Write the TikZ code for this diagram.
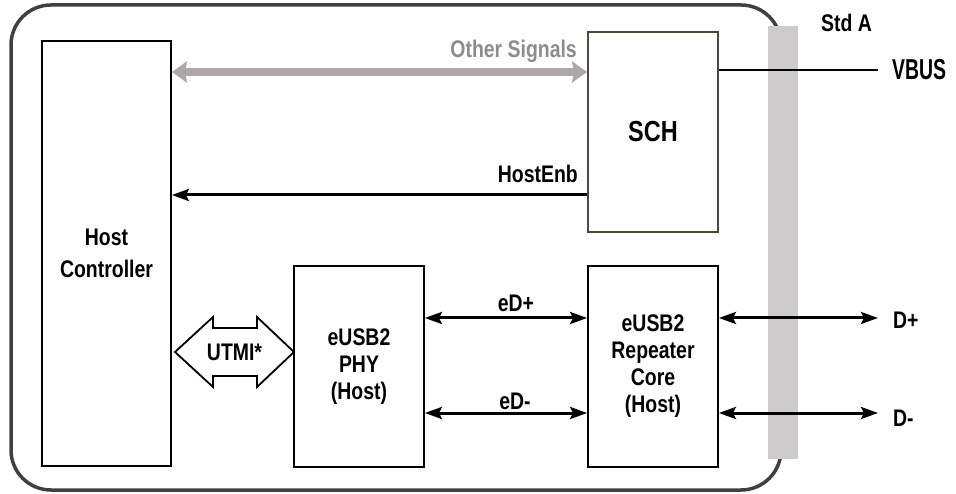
\documentclass[tikz,border=0pt]{standalone}
\usepackage{fontspec}
\setmainfont{Liberation Sans}[FakeStretch=0.81]
\usetikzlibrary{arrows.meta}

\definecolor{frame}{HTML}{404040}
\definecolor{connbar}{HTML}{CDCBCC}
\definecolor{sigarrow}{HTML}{ADA8A8}
\definecolor{sigtext}{HTML}{8C8C8C}
\definecolor{schline}{HTML}{50493A}

\tikzset{
  lbl/.style={font=\bfseries\fontsize{24}{27}\selectfont, inner sep=0pt},
  blk/.style={draw=black, line width=1.8pt, fill=white, align=center,
    font=\bfseries\fontsize{24}{27}\selectfont, inner sep=0pt},
  sig/.style={line width=3pt, draw=black},
  tipb/.tip={Stealth[length=17pt,width=12pt,inset=3pt]},
}

\begin{document}
\begin{tikzpicture}[x=1pt, y=-1pt]
\useasboundingbox (0,0) rectangle (956,494);

% enclosing board outline
\draw[frame, line width=3.5pt, rounded corners=40pt] (11,5) rectangle (781,490);

% Std A connector bar
\fill[connbar] (768,26) rectangle (798,459);

% blocks
\node[blk, minimum width=129pt, minimum height=425pt,
  font=\bfseries\fontsize{24}{32}\selectfont] (hc) at (106.5,253.5) {Host\\Controller};
\node[blk, draw=schline, minimum width=130pt, minimum height=200pt,
  font=\bfseries\fontsize{29}{32}\selectfont] (sch) at (653,132) {SCH};
\node[blk, minimum width=130pt, minimum height=201pt] (phy) at (359,366.5) {eUSB2\\PHY\\(Host)};
\node[blk, minimum width=130pt, minimum height=201pt] (rep) at (653,366.5) {eUSB2\\Repeater\\Core\\(Host)};

% free ends at the connector
\coordinate (vbusend) at (878,70);
\coordinate (dpend) at (878,318);
\coordinate (dmend) at (878,413);

% other signals (grey bus)
\draw[sigarrow, line width=8.5pt, {Stealth[length=15pt,width=21pt,inset=2pt]}-{Stealth[length=15pt,width=21pt,inset=2pt]}]
  (hc.east |- 0,72) -- (sch.west |- 0,72);
\node[lbl, text=sigtext, anchor=base east] (ostxt) at (577,58) {Other Signals};

% HostEnb
\draw[sig, tipb-] (hc.east |- 0,195) -- (sch.west |- 0,195);
\node[lbl, anchor=base east] (hetxt) at (578,183) {HostEnb};

% VBUS
\draw[black, line width=1.3pt] (sch.east |- 0,70) -- (vbusend);
\node[lbl, anchor=base west] (vbustxt) at (892,80) {\scalebox{1}[1.2]{VBUS}};
\node[lbl, anchor=base west] (stdatxt) at (821,32) {Std A};

% UTMI* block arrow
\draw[black, line width=1.8pt, fill=white, line join=miter]
  (175,352) -- (213,317) -- (213,328) -- (257,328) -- (257,317) -- (294,352)
  -- (257,387) -- (257,376) -- (213,376) -- (213,387) -- cycle;
\node[lbl, anchor=base] (utmitxt) at (234.5,360) {UTMI*};

% eUSB2 lanes
\draw[sig, tipb-tipb] (phy.east |- 0,318) -- (rep.west |- 0,318);
\draw[sig, tipb-tipb] (phy.east |- 0,413) -- (rep.west |- 0,413);
\node[lbl, anchor=base] (edptxt) at (516,312) {eD+};
\node[lbl, anchor=base] (edmtxt) at (515,409) {eD-};

% USB2 lanes
\draw[sig, tipb-tipb] (rep.east |- 0,318) -- (dpend);
\draw[sig, tipb-tipb] (rep.east |- 0,413) -- (dmend);
\node[lbl, anchor=base west] (dptxt) at (893,329) {D+};
\node[lbl, anchor=base west] (dmtxt) at (893,426) {D-};
\end{tikzpicture}
\end{document}
